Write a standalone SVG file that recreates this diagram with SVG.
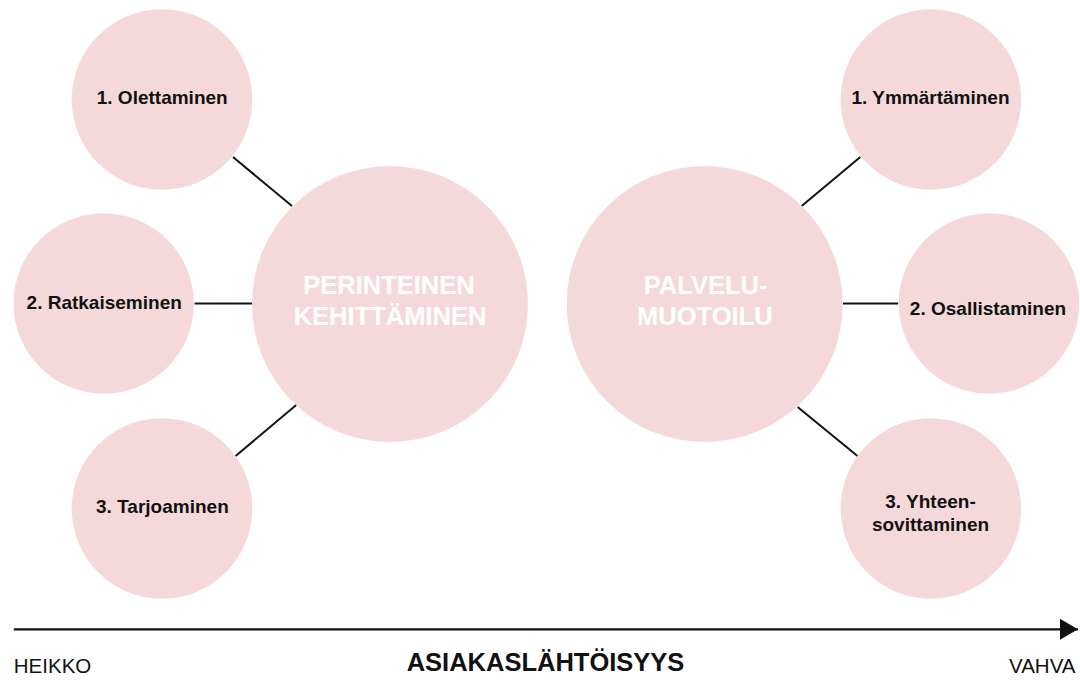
<svg xmlns="http://www.w3.org/2000/svg" width="1080" height="683" viewBox="0 0 1080 683">
  <style>
    .node { fill: #F5D9DA; }
    .lbl { font-family: "Liberation Sans", Arial, sans-serif; font-weight: bold; font-size: 19px; fill: #111111; text-anchor: middle; }
    .big { font-family: "Liberation Sans", Arial, sans-serif; font-weight: bold; font-size: 25.5px; fill: #ffffff; text-anchor: middle; }
    .conn { stroke: #111111; stroke-width: 2; fill: none; }
    .axis { font-family: "Liberation Sans", Arial, sans-serif; font-size: 20.5px; fill: #111111; }
    .title { font-family: "Liberation Sans", Arial, sans-serif; font-size: 25.5px; font-weight: bold; fill: #111111; text-anchor: middle; }
  </style>
  <defs>
    <marker id="arrow" markerWidth="18" markerHeight="21" refX="18" refY="10.5" orient="auto" markerUnits="userSpaceOnUse" viewBox="0 0 18 21">
      <path d="M0,0 L18,10.5 L0,21 Z" fill="#111111"/>
    </marker>
  </defs>
  <rect width="1080" height="683" fill="#ffffff"/>

  <g id="connectors">
    <line class="conn" x1="233" y1="157" x2="292" y2="206"/>
    <line class="conn" x1="194.6" y1="303.5" x2="252.4" y2="303.5"/>
    <line class="conn" x1="235.6" y1="456" x2="296.2" y2="405"/>
    <line class="conn" x1="860.3" y1="157" x2="801.7" y2="206"/>
    <line class="conn" x1="843" y1="303.5" x2="898.2" y2="303.5"/>
    <line class="conn" x1="797.6" y1="407" x2="857.5" y2="456"/>
  </g>

  <g id="perinteinen">
    <circle class="node" cx="390" cy="304" r="138"/>
    <text class="big" x="389" y="294">PERINTEINEN</text>
    <text class="big" x="390" y="325">KEHITTÄMINEN</text>
  </g>
  <g id="olettaminen">
    <circle class="node" cx="162" cy="99.5" r="90.3"/>
    <text class="lbl" x="162.2" y="104">1. Olettaminen</text>
  </g>
  <g id="ratkaiseminen">
    <circle class="node" cx="103.7" cy="303.5" r="90.2"/>
    <text class="lbl" x="104.2" y="309">2. Ratkaiseminen</text>
  </g>
  <g id="tarjoaminen">
    <circle class="node" cx="162" cy="508.5" r="90.3"/>
    <text class="lbl" x="162.4" y="513">3. Tarjoaminen</text>
  </g>

  <g id="palvelumuotoilu">
    <circle class="node" cx="704.7" cy="304" r="138"/>
    <text class="big" x="705.6" y="294">PALVELU-</text>
    <text class="big" x="704.8" y="325">MUOTOILU</text>
  </g>
  <g id="ymmartaminen">
    <circle class="node" cx="930.9" cy="99.5" r="90.3"/>
    <text class="lbl" x="930.5" y="104">1. Ymmärtäminen</text>
  </g>
  <g id="osallistaminen">
    <circle class="node" cx="989" cy="303.5" r="90.2"/>
    <text class="lbl" x="988" y="315">2. Osallistaminen</text>
  </g>
  <g id="yhteensovittaminen">
    <circle class="node" cx="930.9" cy="508.5" r="90.3"/>
    <text class="lbl" x="930.5" y="508">3. Yhteen-</text>
    <text class="lbl" x="930.5" y="531">sovittaminen</text>
  </g>

  <g id="axis">
    <line x1="13.8" y1="629.3" x2="1078" y2="629.3" stroke="#111111" stroke-width="2.2" marker-end="url(#arrow)"/>
    <text class="axis" x="13.8" y="673">HEIKKO</text>
    <text class="title" x="545.5" y="671">ASIAKASLÄHTÖISYYS</text>
    <text class="axis" x="1075.5" y="673" text-anchor="end">VAHVA</text>
  </g>
</svg>
